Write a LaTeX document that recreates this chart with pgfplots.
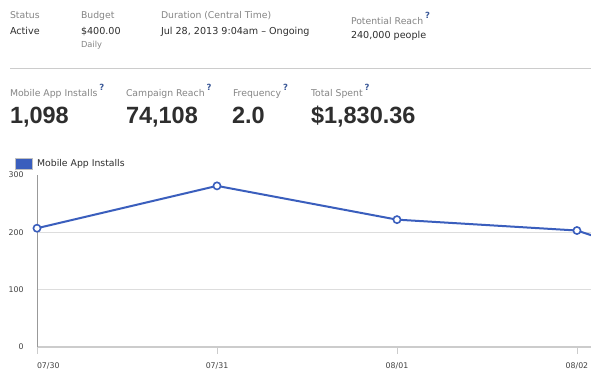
\documentclass[border=0pt]{standalone}
\usepackage{pgfplots}
\pgfplotsset{compat=1.18}
\usepackage{fontspec}
\setmainfont{DejaVu Sans}
\newfontfamily\bigf{Liberation Sans}
\definecolor{fbblue}{HTML}{3A5EBD}
\definecolor{lblgray}{HTML}{858585}
\definecolor{valtxt}{HTML}{2E2E2E}
\definecolor{qblue}{HTML}{3B5998}
\definecolor{gridc}{HTML}{DDDDDD}
\definecolor{xaxc}{HTML}{CCCCCC}
\definecolor{yaxc}{HTML}{999999}
\definecolor{ticktxt}{HTML}{404040}
\newcommand{\lblfont}{\fontsize{9.3}{11}\selectfont}
\newcommand{\q}{\hspace{2pt}\raisebox{6.3pt}{\textcolor{qblue}{\fontsize{8.5}{8.5}\selectfont\bfseries ?}}}
\begin{document}
\begin{tikzpicture}
\useasboundingbox[fill=white] (0,0) rectangle (591pt,-377pt);
\tikzset{lbl/.style={anchor=base west, inner sep=0pt, outer sep=0pt, text=lblgray, font=\lblfont},
         val/.style={anchor=base west, inner sep=0pt, outer sep=0pt, text=valtxt, font=\fontsize{9.6}{11}\selectfont},
         big/.style={anchor=base west, inner sep=0pt, outer sep=0pt, text=valtxt, font=\bigf\bfseries\fontsize{23.5}{24}\selectfont}}
% top row
\node[lbl] at (10pt,-19pt) {Status};
\node[val] at (10pt,-35pt) {Active};
\node[lbl] at (81pt,-19pt) {Budget};
\node[val] at (81pt,-35pt) {\$400.00};
\node[lbl, font=\fontsize{8.3}{10}\selectfont] at (81pt,-47.5pt) {Daily};
\node[lbl] at (161pt,-19pt) {Duration (Central Time)};
\node[val] at (161pt,-35pt) {Jul 28, 2013 9:04am – Ongoing};
\node[lbl] at (351pt,-24.5pt) {Potential Reach\q};
\node[val] at (351pt,-39pt) {240,000 people};
\draw[xaxc, line width=1pt] (10pt,-69pt) -- (591pt,-69pt);
% second row
\node[lbl] at (10pt,-96.7pt) {Mobile App Installs\q};
\node[lbl] at (126pt,-96.7pt) {Campaign Reach\q};
\node[lbl] at (233pt,-96.7pt) {Frequency\q};
\node[lbl] at (311pt,-96.7pt) {Total Spent\q};
\node[big] at (10pt,-123.3pt) {1,098};
\node[big] at (126pt,-123.3pt) {74,108};
\node[big] at (232pt,-123.3pt) {2.0};
\node[big] at (311pt,-123.3pt) {\$1,830.36};
\begin{axis}[
  at={(37pt,-346.7pt)}, anchor=south west,
  scale only axis, width=554pt, height=171.7pt,
  xmin=0, xmax=3.078, ymin=0, ymax=300,
  axis lines=left,
  axis line style={-},
  x axis line style={xaxc, line width=2pt},
  y axis line style={yaxc, line width=0.8pt},
  xtick={0,1,2,3},
  xticklabels={\makebox[0pt][l]{07/30},07/31,08/01,08/02},
  ytick={100,200},
  extra y ticks={0,300},
  extra y tick style={grid=none},
  ymajorgrids,
  grid style={gridc, line width=1pt},
  tick align=outside,
  major tick length=7pt,
  xtick style={xaxc, line width=0.8pt},
  ytick style={draw=none},
  /pgf/number format/assume math mode=true,
  ticklabel style={font=\fontsize{7.8}{9}\selectfont, text=ticktxt},
  xticklabel style={anchor=base, yshift=-15pt},
  yticklabel style={anchor=east, xshift=-3pt},
  clip mode=individual,
  legend style={at={(axis description cs:0,1)}, anchor=south west, xshift=-22pt, yshift=5pt,
     draw=none, fill=none, inner sep=0pt, font=\lblfont, text=valtxt},
  legend image code/.code={\draw[fill=fbblue, draw=gray!50, line width=0.8pt] (0pt,-5.5pt) rectangle (16.7pt,5.5pt);},
]
\addplot[fbblue, line width=2pt, mark=*, mark size=3.6pt,
  mark options={fill=white, draw=fbblue, line width=1.6pt}]
  coordinates {(0,207) (1,281) (2,222) (3,203) (4,100)};
\addlegendentry{\hspace{2.5pt}Mobile App Installs}
\end{axis}
\end{tikzpicture}
\end{document}
